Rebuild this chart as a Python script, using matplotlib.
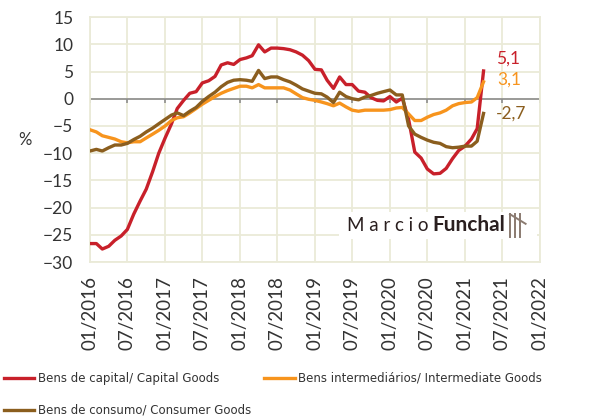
import pandas as pd
import matplotlib.pyplot as plt
import matplotlib.dates as mdates
from matplotlib.lines import Line2D
from matplotlib.patches import Rectangle

months = pd.date_range('2016-01-01', periods=64, freq='MS')

capital = [-26.6, -26.6, -27.6, -27.1, -26.0, -25.2, -24.0, -21.2, -18.8, -16.6,
           -13.4, -10.0, -7.2, -4.6, -1.8, -0.3, 1.0, 1.3, 2.9, 3.3,
           4.1, 6.2, 6.6, 6.3, 7.2, 7.5, 7.9, 9.9, 8.6, 9.3,
           9.3, 9.2, 9.0, 8.6, 8.0, 7.0, 5.4, 5.3, 3.4, 1.9,
           4.0, 2.6, 2.6, 1.4, 1.2, 0.2, -0.3, -0.4, 0.4, -0.6,
           0.1, -3.8, -9.8, -10.9, -12.9, -13.8, -13.7, -12.8, -11.0, -9.5,
           -8.7, -7.4, -5.5, 5.1]
intermediate = [-5.7, -6.1, -6.8, -7.1, -7.4, -7.9, -8.1, -7.9, -7.9, -7.2,
                -6.5, -5.8, -5.0, -4.0, -3.5, -3.3, -2.6, -1.8, -1.0, -0.3,
                0.4, 1.0, 1.5, 1.9, 2.3, 2.3, 2.0, 2.6, 2.0, 2.0,
                2.0, 2.0, 1.6, 0.9, 0.2, -0.1, -0.3, -0.6, -0.9, -1.3,
                -0.8, -1.5, -2.1, -2.3, -2.1, -2.1, -2.1, -2.1, -2.0, -1.7,
                -1.6, -2.8, -4.0, -4.0, -3.4, -2.9, -2.6, -2.1, -1.3, -0.9,
                -0.7, -0.6, 0.2, 3.1]
consumer = [-9.6, -9.3, -9.6, -9.0, -8.5, -8.5, -8.2, -7.5, -6.9, -6.1,
            -5.4, -4.6, -3.8, -3.0, -2.6, -3.1, -2.3, -1.6, -0.5, 0.4,
            1.2, 2.2, 3.0, 3.4, 3.5, 3.4, 3.2, 5.2, 3.7, 4.0,
            4.0, 3.5, 3.1, 2.5, 1.8, 1.4, 1.0, 0.9, 0.3, -0.7,
            1.2, 0.4, 0.0, -0.2, 0.3, 0.6, 1.0, 1.3, 1.6, 0.7,
            0.7, -5.0, -6.5, -7.1, -7.6, -8.0, -8.2, -8.8, -9.0, -8.9,
            -8.7, -8.7, -7.8, -2.7]

labels = ['Bens de capital/ Capital Goods',
          'Bens intermediários/ Intermediate Goods',
          'Bens de consumo/ Consumer Goods']
colors = ['#C8202A', '#F7941D', '#8B5E1E']

plt.rcParams['font.family'] = ['Lato', 'DejaVu Sans']
fig = plt.figure(figsize=(6, 4.16), dpi=100)
ax = fig.add_axes([0.15, 0.37, 0.75, 0.589])

grid_c = '#EAEAD8'
ax.set_xlim(pd.Timestamp('2016-01-01'), pd.Timestamp('2022-01-01'))
ax.set_ylim(-30, 15)
ax.set_yticks(range(-30, 16, 5))
ticks = pd.date_range('2016-01-01', '2022-01-01', freq='6MS')
ax.set_xticks(ticks)
ax.xaxis.set_major_formatter(mdates.DateFormatter('%m/%Y'))
ax.grid(True, color=grid_c, lw=1.3)
for s in ax.spines.values():
    s.set_color(grid_c)
    s.set_linewidth(1.3)
ax.tick_params(length=0, colors='#333333')
ax.tick_params(axis='y', labelsize=12.5, pad=12)
ax.tick_params(axis='x', labelrotation=90, labelsize=13.5, pad=10)

ax.axhline(0, color='#8C8C8C', lw=1.2, zorder=2)
ax.vlines(ticks, -0.7, 0, color='#8C8C8C', lw=1.2, zorder=2)

series = [capital, intermediate, consumer]
lines = []
for vals, lab, c in zip(series, labels, colors):
    ln, = ax.plot(months, vals, color=c, lw=2.4, label=lab, zorder=3)
    lines.append(ln)

ax.annotate('5,1', (months[-1], capital[-1]), xytext=(9, 3), textcoords='offset points',
            color=colors[0], fontsize=12.5, va='bottom')
ax.annotate('3,1', (months[-1], intermediate[-1]), xytext=(10, -4), textcoords='offset points',
            color=colors[1], fontsize=12.5, va='bottom')
ax.annotate('-2,7', (months[-1], consumer[-1]), xytext=(9, 0), textcoords='offset points',
            color=colors[2], fontsize=12.5, va='center')

fig.text(0.03, 0.663, '%', fontsize=12, color='#333333', va='center')

# watermark
fig.patches.append(Rectangle((0.565, 0.425), 0.33, 0.065, transform=fig.transFigure,
                             facecolor='white', edgecolor='none', zorder=4))
fig.text(0.578, 0.458, 'M a r c i o', fontsize=13.5, color='#2a1f1f', va='center', zorder=5)
fig.text(0.72, 0.458, 'Funchal', fontsize=15, color='#2a1f1f', fontweight='bold',
         va='center', zorder=5)
for dx in (0.0, 0.008, 0.016):
    fig.lines.append(Line2D([0.85 + dx, 0.85 + dx], [0.43, 0.485], transform=fig.transFigure,
                            color='#8a7a70', lw=1.4, zorder=5))
fig.lines.append(Line2D([0.85, 0.876], [0.485, 0.462], transform=fig.transFigure,
                        color='#8a7a70', lw=1.4, zorder=5))

fig.legend(handles=[lines[0], lines[2], lines[1]],
           labels=[labels[0], labels[2], labels[1]],
           loc='upper left', bbox_to_anchor=(0.006, 0.106), ncol=2,
           frameon=False, handlelength=2.6, handletextpad=0.3,
           columnspacing=1.1, labelspacing=1.6, labelcolor='#333333',
           borderaxespad=0, borderpad=0,
           prop={'family': 'DejaVu Sans', 'size': 8.5})

fig.savefig('out.png', dpi=100)
